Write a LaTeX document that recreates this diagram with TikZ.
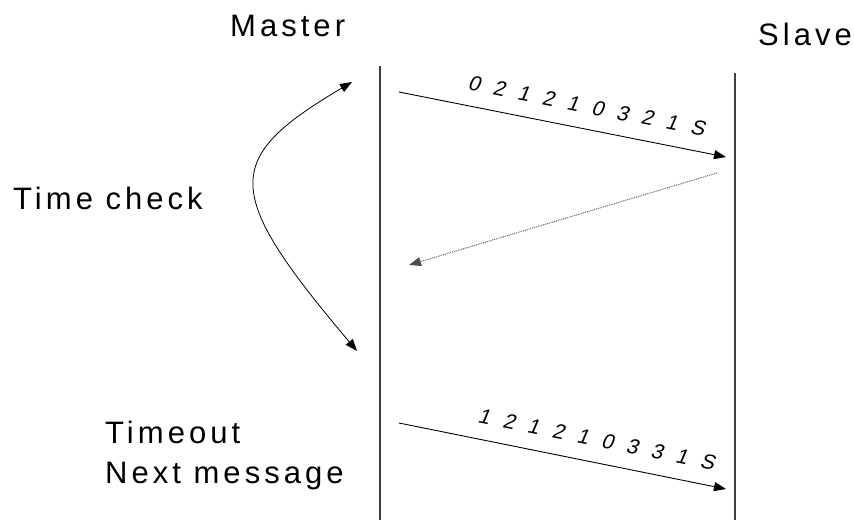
\documentclass[tikz,border=0pt]{standalone}
\usepackage{fontspec}
\setmainfont{Liberation Sans}
\newfontfamily\spacedfont[LetterSpace=13]{Liberation Sans}
\newfontfamily\seqfont[FakeSlant=0.2]{Liberation Sans}
\usetikzlibrary{arrows.meta}

% gap between the symbols of a frame
\newcommand{\seqgap}{\hspace{13.5pt}}
\newcommand{\frameseq}[1]{\frameseqi#1\relax}
\def\frameseqi#1#2{#1\ifx#2\relax\else\seqgap\expandafter\frameseqi\expandafter#2\fi}

\tikzset{
  lbl/.style={font=\spacedfont\fontsize{31}{37}\selectfont, inner sep=0pt, anchor=base west},
  seq/.style={font=\seqfont\fontsize{21}{25}\selectfont, sloped, inner sep=0pt, above=15pt},
  msg/.style={line width=0.9pt, -{Triangle[length=12pt,width=9pt]}},
  reply/.style={msg, densely dotted, black!70},
  life/.style={line width=1.1pt, black!75},
}

\begin{document}
\begin{tikzpicture}[x=1pt,y=-1pt]
    \useasboundingbox (0,0) rectangle (854,520);

    % lifelines
    \coordinate (mtop) at (380,66);
    \coordinate (mbot) at (380,520);
    \coordinate (stop) at (735,73);
    \coordinate (sbot) at (735,520);
    \draw[life] (mtop) -- (mbot);
    \draw[life] (stop) -- (sbot);

    \node[lbl] (master) at (230,36) {Master};
    \node[lbl] (slave) at (758,45) {Slave};
    \node[lbl] (timecheck) at (13,209) {Time check};
    \node[lbl] (timeout) at (105,443) {Timeout};
    \node[lbl] (nextmsg) at (105,483) {Next message};

    % first frame and the answer
    \coordinate (req1s) at (399,92);
    \coordinate (req1e) at (726,157);
    \draw[msg] (req1s) -- (req1e) node[seq,pos=0.56] (req1) {\frameseq{021210321S}};

    \coordinate (ansS) at (717,173);
    \coordinate (ansE) at (409,265);
    \draw[reply] (ansS) -- (ansE);

    % time window
    \coordinate (chkA) at (352,82);
    \coordinate (chkB) at (357,351);
    \draw[line width=0.8pt, {Triangle[length=12pt,width=9pt]}-{Triangle[length=12pt,width=9pt]}]
        (chkA) .. controls (222,159) and (222,191) .. (chkB);

    % resent frame
    \coordinate (req2s) at (399,423);
    \coordinate (req2e) at (726,489);
    \draw[msg] (req2s) -- (req2e) node[seq,pos=0.59] (req2) {\frameseq{121210331S}};
\end{tikzpicture}
\end{document}
